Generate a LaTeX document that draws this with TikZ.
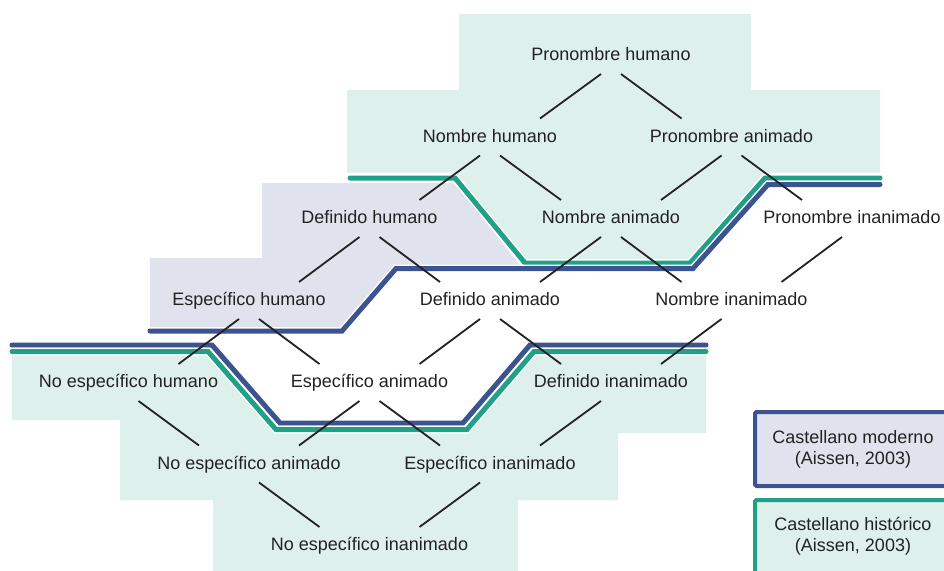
\documentclass[tikz,border=0pt]{standalone}
\usepackage{fontspec}
\setmainfont{Liberation Sans}
\definecolor{fillgreen}{RGB}{222,240,235}
\definecolor{fillgray}{RGB}{224,227,237}
\definecolor{lineblue}{RGB}{59,83,145}
\definecolor{linegreen}{RGB}{33,160,136}
\definecolor{txt}{RGB}{34,34,34}
\tikzset{
  lbl/.style={inner sep=0pt, text height=13pt, text depth=0pt, text=txt, font=\fontsize{18}{21}\selectfont},
  legtxt/.style={inner sep=0pt, align=center, text=txt, font=\fontsize{18}{21}\selectfont},
  conn/.style={draw=txt, line width=1.8pt},
  halo/.style={draw=white, line width=8pt, line join=miter},
  bluel/.style={draw=lineblue, line width=5pt, line join=miter, line cap=round},
  greenl/.style={draw=linegreen, line width=5pt, line join=miter, line cap=round},
}
\begin{document}
\begin{tikzpicture}[x=1pt,y=-1pt]
\useasboundingbox (0,0) rectangle (944,570);
\clip (0,0) rectangle (944,570);
% fills
\fill[fillgray] (262,183) -- (455,183) -- (522,268) -- (396,268) -- (342,331) -- (150,331) -- (150,258) -- (262,258) -- cycle;
\fill[fillgreen] (459,14) -- (751,14) -- (751,90) -- (880,90) -- (880,172.5) -- (770,172.5) -- (690,263) -- (525,263) -- (450,172.5) -- (347,172.5) -- (347,90) -- (459,90) -- cycle;
\fill[fillgreen] (12,352) -- (210,352) -- (276,429) -- (467,429) -- (534,352) -- (706,352) -- (706,433) -- (618,433) -- (618,500) -- (518,500) -- (518,575) -- (213,575) -- (213,500) -- (120,500) -- (120,420) -- (12,420) -- cycle;
% upper lines
\draw[halo] (350,178) -- (455,178) -- (525,263) -- (690,263) -- (765,178) -- (880,178);
\draw[greenl] (350,178) -- (455,178) -- (525,263) -- (690,263) -- (765,178) -- (880,178);
\draw[halo] (150,331) -- (342,331) -- (396,268.5) -- (693,268.5) -- (768,184.5) -- (880,184.5);
\draw[bluel] (150,331) -- (342,331) -- (396,268.5) -- (693,268.5) -- (768,184.5) -- (880,184.5);
% lower lines
\draw[halo] (12,345) -- (212,345) -- (280,423) -- (463,423) -- (530,345) -- (706,345);
\draw[bluel] (12,345) -- (212,345) -- (280,423) -- (463,423) -- (530,345) -- (706,345);
\draw[halo] (12,351.5) -- (208,351.5) -- (276,429.5) -- (467,429.5) -- (534,351.5) -- (706,351.5);
\draw[greenl] (12,351.5) -- (208,351.5) -- (276,429.5) -- (467,429.5) -- (534,351.5) -- (706,351.5);
% nodes
\node[lbl] (PH) at (611,54) {Pronombre humano};
\node[lbl] (NH) at (490,135.5) {Nombre humano};
\node[lbl] (PA) at (731.5,135.5) {Pronombre animado};
\node[lbl] (DH) at (369.5,217) {Definido humano};
\node[lbl] (NA) at (611,217) {Nombre animado};
\node[lbl] (PI) at (852,217) {Pronombre inanimado};
\node[lbl] (EH) at (249,299) {Específico humano};
\node[lbl] (DA) at (490,299) {Definido animado};
\node[lbl] (NI) at (731.5,299) {Nombre inanimado};
\node[lbl] (NEH) at (128.5,381) {No específico humano};
\node[lbl] (EA) at (369.5,381) {Específico animado};
\node[lbl] (DI) at (611,381) {Definido inanimado};
\node[lbl] (NEA) at (249,462.5) {No específico animado};
\node[lbl] (EI) at (490,462.5) {Específico inanimado};
\node[lbl] (NEI) at (369.5,544) {No específico inanimado};
% connectors
\foreach \p/\c in {PH/NH, NH/DH, PA/NA, DH/EH, NA/DA, PI/NI, EH/NEH, DA/EA, NI/DI, EA/NEA, DI/EI, EI/NEI}
  \draw[conn] ([shift={(-10,20)}]\p.center) -- ([shift={(50,-17)}]\c.center);
\foreach \p/\c in {PH/PA, NH/NA, PA/PI, DH/DA, NA/NI, EH/EA, DA/DI, NEH/NEA, EA/EI, NEA/NEI}
  \draw[conn] ([shift={(10,20)}]\p.center) -- ([shift={(-50,-17)}]\c.center);
% legend
\draw[draw=lineblue, fill=fillgray, line width=4pt, rounded corners=1.5pt] (755,412) rectangle (965,486);
\node[legtxt] (L1) at (853,449) {Castellano moderno\\(Aissen, 2003)};
\draw[draw=linegreen, fill=fillgreen, line width=4pt, rounded corners=1.5pt] (755,500) rectangle (965,600);
\node[legtxt] (L2) at (853,536) {Castellano histórico\\(Aissen, 2003)};
\end{tikzpicture}
\end{document}
